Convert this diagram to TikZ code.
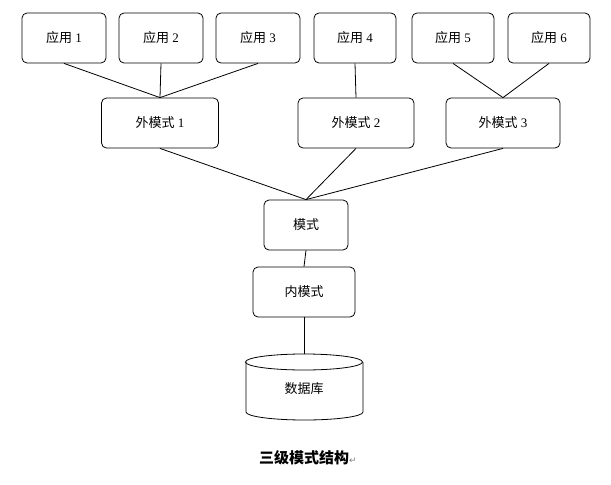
\documentclass[tikz,border=0pt]{standalone}
\usepackage{fontspec}
\setmainfont{Liberation Serif}
\newfontfamily\cjk{Noto Sans CJK SC}
\newfontfamily\dejavu{DejaVu Sans}
\usetikzlibrary{shapes.geometric}
\begin{document}
\begin{tikzpicture}[x=1pt,y=-1pt,
  box/.style={draw,thick,rounded corners=5pt,minimum height=50pt,font=\fontsize{13}{15}\selectfont,inner sep=0pt},
  link/.style={thick}]
\useasboundingbox (0,0) rectangle (611,485);
\node[box,minimum width=84pt] (a1) at (64,38) {{\cjk 应用} 1};
\node[box,minimum width=84pt] (a2) at (161,38) {{\cjk 应用} 2};
\node[box,minimum width=84pt] (a3) at (258,38) {{\cjk 应用} 3};
\node[box,minimum width=82pt] (a4) at (355,38) {{\cjk 应用} 4};
\node[box,minimum width=82pt] (a5) at (453,38) {{\cjk 应用} 5};
\node[box,minimum width=82pt] (a6) at (549,38) {{\cjk 应用} 6};
\node[box,minimum width=117pt] (w1) at (160,123) {{\cjk 外模式} 1};
\node[box,minimum width=116pt] (w2) at (356,123) {{\cjk 外模式} 2};
\node[box,minimum width=114pt] (w3) at (503,123) {{\cjk 外模式} 3};
\node[box,minimum width=84pt] (m) at (306,225) {\cjk 模式};
\node[box,minimum width=102pt] (n) at (304,292) {\cjk 内模式};
\coordinate (dbt) at (304,362);
\draw[thick] (246,362) -- (246,412) arc[start angle=180,end angle=360,x radius=58.5pt,y radius=8pt] -- (363,362);
\draw[thick] (304,362) ellipse[x radius=58.5pt,y radius=8pt];
\node[font=\fontsize{13}{15}\selectfont\cjk] (db) at (304,389) {数据库};
\foreach \a in {a1,a2,a3} \draw[link] (\a.south) -- (w1.north);
\draw[link] (a4.south) -- (w2.north);
\foreach \a in {a5,a6} \draw[link] (\a.south) -- (w3.north);
\foreach \w in {w1,w2,w3} \draw[link] (\w.south) -- (m.north);
\draw[link] (m.south) -- (n.north);
\draw[link] (n.south) -- ([yshift=8pt]dbt);
\node[font=\fontsize{15}{17}\selectfont\cjk\bfseries] (cap) at (308,458) {三级模式结构{\color{gray}\dejavu\mdseries\fontsize{9}{9}\selectfont ↵}};
\end{tikzpicture}
\end{document}
